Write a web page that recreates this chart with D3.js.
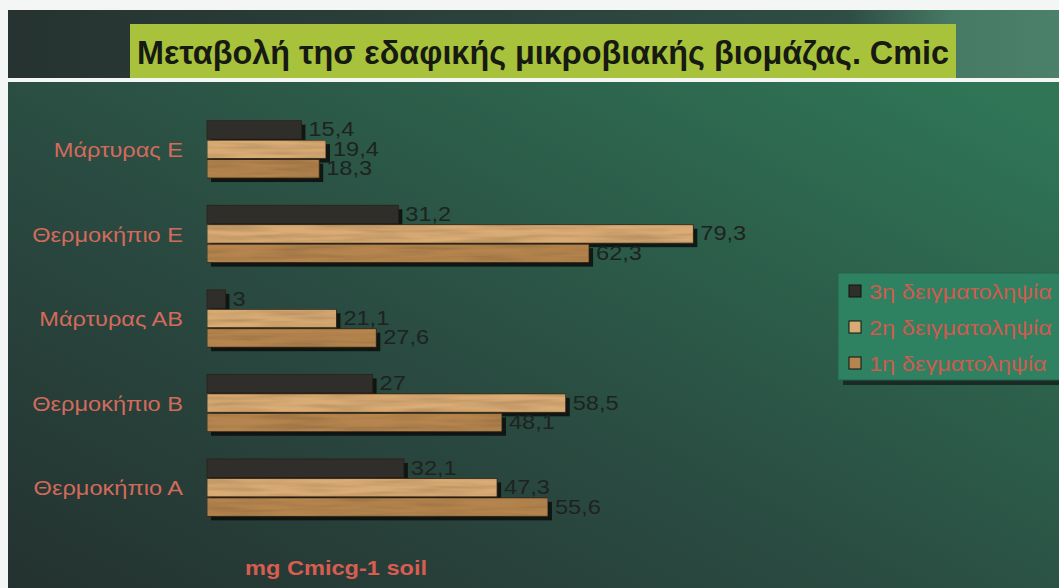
<!DOCTYPE html>
<html><head><meta charset="utf-8">
<script src="https://cdn.jsdelivr.net/npm/d3@7"></script>
<style>html,body{margin:0;padding:0;background:#f4f6f5;}svg{display:block;}</style>
</head><body>
<svg id="c" width="1059" height="588"></svg>
<script>
const categories = ["Μάρτυρας Ε", "Θερμοκήπιο Ε", "Μάρτυρας ΑΒ", "Θερμοκήπιο Β", "Θερμοκήπιο Α"];
const seriesNames = ["3η δειγματοληψία", "2η δειγματοληψία", "1η δεγματοληψία"];
const s3 = [15.4, 31.2, 3, 27, 32.1];
const s2 = [19.4, 79.3, 21.1, 58.5, 47.3];
const s1 = [18.3, 62.3, 27.6, 48.1, 55.6];
const seriesValues = [s3, s2, s1];
const seriesColors = ["#302e2b", "#d9ab74", "#b6854f"];
const titleText = "Μεταβολή τησ εδαφικής μικροβιακής  βιομάζας. Cmic";
const axisTitle = "mg Cmicg-1 soil";

const FONT = "Arial,'Liberation Sans',sans-serif";
const STRETCH = 1.15;
function stretch(sel) {
  sel.each(function() {
    const w = this.getComputedTextLength();
    d3.select(this).attr("textLength", w * STRETCH).attr("lengthAdjust", "spacingAndGlyphs");
  });
}

const svg = d3.select("#c");
const defs = svg.append("defs");
const bg = defs.append("linearGradient").attr("id","bg").attr("x1","0").attr("y1","1").attr("x2","1").attr("y2","0.1");
bg.append("stop").attr("offset","0").attr("stop-color","#24322f");
bg.append("stop").attr("offset","0.45").attr("stop-color","#2a4b41");
bg.append("stop").attr("offset","1").attr("stop-color","#2f7556");
const tb = defs.append("linearGradient").attr("id","tb").attr("x1","0").attr("x2","1");
tb.append("stop").attr("offset","0").attr("stop-color","#263330");
tb.append("stop").attr("offset","0.8").attr("stop-color","#2f4d44");
tb.append("stop").attr("offset","0.9").attr("stop-color","#477a64");
tb.append("stop").attr("offset","1").attr("stop-color","#4b806a");
const tex = defs.append("filter").attr("id","tex").attr("x","0").attr("y","0").attr("width","1").attr("height","1");
tex.append("feTurbulence").attr("type","fractalNoise").attr("baseFrequency","0.015 0.2").attr("numOctaves","2").attr("seed","5").attr("result","n");
tex.append("feColorMatrix").attr("in","n").attr("type","matrix").attr("values","0 0 0 0 0.1  0 0 0 0 0.06  0 0 0 0 0.02  0 0 0 0.7 -0.25").attr("result","a");
tex.append("feComposite").attr("in","a").attr("in2","SourceGraphic").attr("operator","in").attr("result","d");
tex.append("feMerge").selectAll("feMergeNode").data(["SourceGraphic","d"]).join("feMergeNode").attr("in",d=>d);

// background areas
svg.append("rect").attr("x",8).attr("y",10).attr("width",1051).attr("height",68).attr("fill","url(#tb)");
svg.append("rect").attr("x",8).attr("y",82).attr("width",1051).attr("height",506).attr("fill","url(#bg)");

// title
svg.append("rect").attr("x",130).attr("y",24).attr("width",826).attr("height",54).attr("fill","#a9c23c");
svg.append("text").attr("x",137).attr("y",64).attr("textLength",812).attr("lengthAdjust","spacingAndGlyphs")
  .attr("font-family","'Liberation Sans Narrow','Arial Narrow',Arial,sans-serif").attr("font-weight","bold")
  .attr("font-size",33).attr("fill","#161a12").text(titleText);

// scales
const x = d3.scaleLinear().domain([0, 80]).range([207, 697.6]);
const y = d3.scaleBand().domain(categories).range([108, 530]).paddingInner(0.31).paddingOuter(0.15);
const yi = d3.scaleBand().domain(d3.range(3)).range([0, y.bandwidth()]);

const g = svg.append("g");
const rows = [];
categories.forEach((c, ci) => seriesValues.forEach((arr, si) => rows.push({c, si, v: arr[ci]})));

// shadows
g.selectAll("rect.sh").data(rows).join("rect").attr("class","sh")
  .attr("x", x(0)+4).attr("y", d => y(d.c)+yi(d.si)+4)
  .attr("width", d => x(d.v)-x(0)).attr("height", yi.bandwidth()-1)
  .attr("fill","#0b0d0c").attr("opacity",0.85);
// bars
g.selectAll("rect.bar").data(rows).join("rect").attr("class","bar")
  .attr("x", x(0)).attr("y", d => y(d.c)+yi(d.si))
  .attr("width", d => x(d.v)-x(0)).attr("height", yi.bandwidth()-1)
  .attr("fill", d => seriesColors[d.si]).attr("stroke","#2a2118").attr("stroke-width",0.8)
  .attr("filter", d => d.si ? "url(#tex)" : null);
// value labels
g.selectAll("text.val").data(rows).join("text").attr("class","val")
  .attr("x", d => x(d.v)+7).attr("y", d => y(d.c)+yi(d.si)+yi.bandwidth()/2+6)
  .attr("font-family",FONT).attr("font-size",20.5).attr("fill","#1d2321")
  .text(d => String(d.v).replace(".", ","))
  .call(stretch);

// category axis
const ax = svg.append("g").attr("transform","translate(195,0)").call(d3.axisLeft(y).tickSize(0).tickPadding(12));
ax.select(".domain").remove();
ax.selectAll("text").attr("font-family",FONT).attr("font-size",20.5).attr("fill","#d46a5c").attr("dy","0.35em")
  .call(stretch);

// axis title
svg.append("text").attr("x",245).attr("y",575).attr("font-family",FONT)
  .attr("font-weight","bold").attr("font-size",20.5).attr("fill","#d85d50").text(axisTitle).call(stretch);

// legend
const lg = svg.append("g").attr("transform","translate(838,273)");
lg.append("rect").attr("x",5).attr("y",5).attr("width",222).attr("height",107).attr("fill","#1a2a24");
lg.append("rect").attr("width",222).attr("height",107).attr("fill","#2e8262").attr("stroke","#28614c");
seriesNames.forEach((n, i) => {
  const yy = 18 + i*36;
  lg.append("rect").attr("x",11).attr("y",yy-6).attr("width",12).attr("height",12)
    .attr("fill", seriesColors[i]).attr("stroke","#111").attr("stroke-width",1);
  lg.append("text").attr("x",31).attr("y",yy+8).attr("font-family",FONT)
    .attr("font-size",20.5).attr("fill","#cf5a4e").text(n).call(stretch);
});
</script>
</body></html>
